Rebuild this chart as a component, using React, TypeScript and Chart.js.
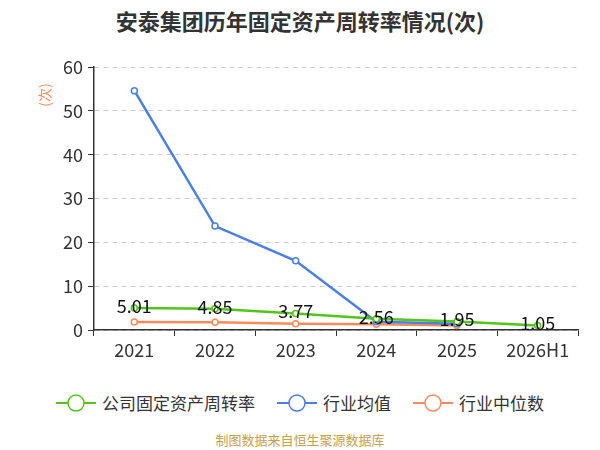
import { useEffect, useRef } from 'react';
import Chart from 'chart.js/auto';

const years = ['2021', '2022', '2023', '2024', '2025', '2026H1'];
const companyTurnover = [5.01, 4.85, 3.77, 2.56, 1.95, 1.05];
const industryAvg = [54.6, 23.7, 15.8, 1.9, 1.4, null];
const industryMedian = [1.8, 1.75, 1.45, 1.3, 1.0, null];
const yTicks = [0, 10, 20, 30, 40, 50, 60];

const GREEN = '#52c41a';
const BLUE = '#4a7fe3';
const ORANGE = '#fb8b5b';
const FONT = "'Noto Sans CJK SC', 'Noto Sans', sans-serif";

const legendItems = [
  { label: '公司固定资产周转率', color: GREEN },
  { label: '行业均值', color: BLUE },
  { label: '行业中位数', color: ORANGE },
];

// value labels over the company series
const valueLabels = {
  id: 'valueLabels',
  afterDatasetsDraw(chart: any) {
    const meta = chart.getDatasetMeta(0);
    const ctx = chart.ctx;
    ctx.save();
    ctx.font = `18px ${FONT}`;
    ctx.fillStyle = '#111';
    ctx.textAlign = 'center';
    ctx.textBaseline = 'middle';
    meta.data.forEach((pt: any, i: number) => {
      ctx.fillText(companyTurnover[i].toFixed(2), pt.x, pt.y - 2);
    });
    ctx.restore();
  },
};

const unitLabel = {
  id: 'unitLabel',
  afterDraw(chart: any) {
    const ctx = chart.ctx;
    ctx.save();
    ctx.translate(45, chart.chartArea.top + 28);
    ctx.rotate(-Math.PI / 2);
    ctx.font = `14px ${FONT}`;
    ctx.fillStyle = ORANGE;
    ctx.textAlign = 'center';
    ctx.textBaseline = 'middle';
    ctx.fillText('(次)', 0, 0);
    ctx.restore();
  },
};

function TurnoverChart() {
  const canvasRef = useRef<HTMLCanvasElement>(null);

  useEffect(() => {
    if (!canvasRef.current) return;
    const line = (label: string, data: (number | null)[], color: string) => ({
      label,
      data,
      borderColor: color,
      backgroundColor: '#fff',
      borderWidth: 2.5,
      pointRadius: 3,
      pointBorderWidth: 1.5,
      pointBackgroundColor: '#fff',
      pointBorderColor: color,
      tension: 0,
    });
    const chart = new Chart(canvasRef.current, {
      type: 'line',
      data: {
        labels: years,
        datasets: [
          line('公司固定资产周转率', companyTurnover, GREEN),
          line('行业均值', industryAvg, BLUE),
          line('行业中位数', industryMedian, ORANGE),
        ],
      },
      options: {
        animation: false,
        responsive: true,
        maintainAspectRatio: false,
        layout: { padding: { top: 67, right: 22, bottom: 20, left: 0 } },
        plugins: {
          legend: { display: false },
          title: { display: false },
          tooltip: { enabled: false },
        },
        scales: {
          x: {
            offset: true,
            afterFit: (s: any) => {
              s.height = 30;
            },
            grid: {
              offset: true,
              drawOnChartArea: false,
              drawTicks: true,
              tickLength: 6,
              tickColor: '#333',
            },
            border: { color: '#333', width: 1.5 },
            ticks: {
              color: '#333',
              padding: 3,
              font: { family: FONT, size: 18 },
            },
          },
          y: {
            min: 0,
            max: 60,
            afterFit: (s: any) => {
              s.width = 94;
            },
            afterBuildTicks: (s: any) => {
              s.ticks = yTicks.map((v) => ({ value: v }));
            },
            grid: {
              color: '#cccccc',
              tickColor: '#333',
              tickLength: 6,
              lineWidth: 1,
            },
            border: { color: '#333', width: 1.5, dash: [5, 4] },
            ticks: {
              color: '#333',
              padding: 5,
              font: { family: FONT, size: 18 },
            },
          },
        },
      },
      plugins: [valueLabels, unitLabel],
    });
    return () => chart.destroy();
  }, []);

  return (
    <div style={{ position: 'absolute', left: 0, top: 0, width: 600, height: 380 }}>
      <canvas ref={canvasRef} />
    </div>
  );
}

export default function App() {
  return (
    <div
      style={{
        position: 'absolute',
        left: 0,
        top: 0,
        width: 600,
        height: 450,
        background: '#fff',
        fontFamily: FONT,
      }}
    >
      <div
        style={{
          position: 'absolute',
          top: 5,
          left: 0,
          width: 600,
          textAlign: 'center',
          fontSize: 22,
          fontWeight: 'bold',
          color: '#333',
          lineHeight: '30px',
          paddingRight: 4,
        }}
      >
        安泰集团历年固定资产周转率情况(次)
      </div>
      <TurnoverChart />
      <div
        style={{
          position: 'absolute',
          top: 390,
          left: 0,
          width: 600,
          display: 'flex',
          justifyContent: 'center',
          gap: 22,
          fontSize: 17,
          color: '#333',
          lineHeight: '26px',
        }}
      >
        {legendItems.map((it) => (
          <div key={it.label} style={{ display: 'flex', alignItems: 'center', gap: 6 }}>
            <svg width={40} height={20}>
              <line x1={0} y1={10} x2={40} y2={10} stroke={it.color} strokeWidth={2} />
              <circle cx={20} cy={10} r={8} fill="#fff" stroke={it.color} strokeWidth={1.5} />
            </svg>
            <span>{it.label}</span>
          </div>
        ))}
      </div>
      <div
        style={{
          position: 'absolute',
          top: 431,
          left: 0,
          width: 600,
          textAlign: 'center',
          fontSize: 13,
          color: '#c9a04a',
          lineHeight: '18px',
        }}
      >
        制图数据来自恒生聚源数据库
      </div>
    </div>
  );
}
